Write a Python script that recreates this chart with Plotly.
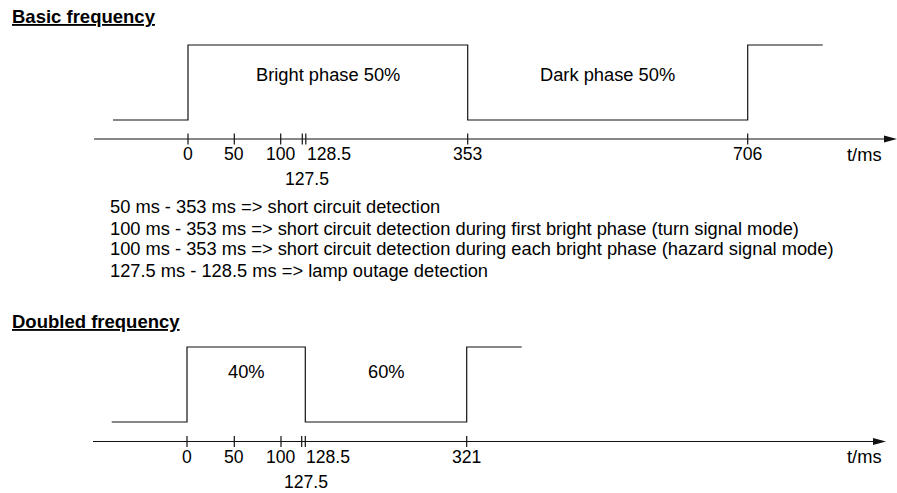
import numpy as np
import plotly.graph_objects as go

# ---------------- data ----------------
# Basic frequency: signal (time in ms, logic level)
basic_t = [-81, 0, 0, 353, 353, 706, 706, 800]
basic_level = [0, 0, 1, 1, 0, 0, 1, 1]
basic_ticks = [0, 50, 100, 127.5, 128.5, 353, 706]
basic_tick_labels = ["0", "50", "100", "127.5", "128.5", "353", "706"]
basic_phase_labels = ["Bright phase 50%", "Dark phase 50%"]
basic_phase_bounds = [[0, 353], [353, 706]]

# Doubled frequency
doubled_t = [-80, 0, 0, 128.5, 128.5, 321, 321, 387]
doubled_level = [0, 0, 1, 1, 0, 0, 1, 1]
doubled_ticks = [0, 50, 100, 127.5, 128.5, 321]
doubled_tick_labels = ["0", "50", "100", "127.5", "128.5", "321"]
doubled_phase_labels = ["40%", "60%"]
doubled_phase_bounds = [[0, 128.5], [128.5, 321]]

titles = ["Basic frequency", "Doubled frequency"]
axis_unit = "t/ms"
notes = [
    "50 ms - 353 ms => short circuit detection",
    "100 ms - 353 ms => short circuit detection during first bright phase (turn signal mode)",
    "100 ms - 353 ms => short circuit detection during each bright phase (hazard signal mode)",
    "127.5 ms - 128.5 ms => lamp outage detection",
]

# ---------------- schematic (non-proportional) time axis ----------------
basic_warp_t = [-81, 0, 50, 100, 127.5, 128.5, 353, 706, 800]
basic_warp_x = [113, 188, 234.3, 280.7, 302.3, 305.8, 467.7, 747.7, 822.7]
doubled_warp_t = [-80, 0, 50, 100, 127.5, 128.5, 321, 387]
doubled_warp_x = [111.7, 187, 234.3, 281, 301.7, 305.3, 466.7, 521.7]

W, H = 897, 493
FONT = "Liberation Sans, Arial, Helvetica, sans-serif"
LINE_COLOR = "#111111"
LW = 1.2
FS = 18.3
TITLE_FS = 18.5
TICK_FS = 17.6

# pixel layout of the two panels (row of low level, high level, time axis)
panels = [
    dict(t=basic_t, lev=basic_level, ticks=basic_ticks, labels=basic_tick_labels,
         plabels=basic_phase_labels, pbounds=basic_phase_bounds,
         wt=basic_warp_t, wx=basic_warp_x,
         low=120, high=45, axis=139, label_y=74, top=0, bottom=H / 2,
         axis_x0=94, axis_tip=897, title_y=17),
    dict(t=doubled_t, lev=doubled_level, ticks=doubled_ticks, labels=doubled_tick_labels,
         plabels=doubled_phase_labels, pbounds=doubled_phase_bounds,
         wt=doubled_warp_t, wx=doubled_warp_x,
         low=422, high=347, axis=441.5, label_y=371, top=H / 2, bottom=H,
         axis_x0=93, axis_tip=886, title_y=321),
]

fig = go.Figure()
shapes = []
annotations = []
layout_axes = {}

for i, p in enumerate(panels):
    xa = "x" if i == 0 else "x2"
    ya = "y" if i == 0 else "y2"
    xkey = "xaxis" if i == 0 else "xaxis2"
    ykey = "yaxis" if i == 0 else "yaxis2"
    ppu = p["low"] - p["high"]  # pixels per logic level unit

    def lvl(px, p=p, ppu=ppu):
        return (p["low"] - px) / ppu

    def warp(t, p=p):
        return np.interp(t, p["wt"], p["wx"])

    axis_lvl = lvl(p["axis"])

    layout_axes[xkey] = dict(range=[0, W], domain=[0, 1], visible=False,
                             fixedrange=True, anchor=ya)
    layout_axes[ykey] = dict(range=[lvl(p["bottom"]), lvl(p["top"])],
                             domain=[1 - p["bottom"] / H, 1 - p["top"] / H],
                             visible=False, fixedrange=True, anchor=xa)

    # signal
    fig.add_trace(go.Scatter(x=warp(p["t"]), y=p["lev"], mode="lines",
                             line=dict(color=LINE_COLOR, width=LW, shape="linear"),
                             xaxis=xa, yaxis=ya, hoverinfo="skip"))

    # time axis line + arrowhead
    shapes.append(dict(type="line", xref=xa, yref=ya, x0=p["axis_x0"], x1=p["axis_tip"] - 6,
                       y0=axis_lvl, y1=axis_lvl, line=dict(color=LINE_COLOR, width=LW)))
    shapes.append(dict(type="path", xref=xa, yref=ya, xsizemode="pixel", ysizemode="pixel",
                       xanchor=p["axis_tip"], yanchor=axis_lvl,
                       path="M0,0 L-13,-3.6 L-13,3.6 Z", fillcolor=LINE_COLOR,
                       line=dict(width=0)))

    # ticks crossing the axis
    fig.add_trace(go.Scatter(x=warp(p["ticks"]), y=[axis_lvl] * len(p["ticks"]),
                             mode="markers",
                             marker=dict(symbol="line-ns", size=8,
                                         line=dict(color=LINE_COLOR, width=LW)),
                             xaxis=xa, yaxis=ya, hoverinfo="skip"))

    # tick labels
    for tv, tl in zip(p["ticks"], p["labels"]):
        if tl == "127.5":
            annotations.append(dict(xref=xa, yref=ya, x=warp(128.5), y=axis_lvl, text=tl,
                                    showarrow=False, xanchor="center", yanchor="middle",
                                    yshift=-40, xshift=1,
                                    font=dict(family=FONT, size=TICK_FS, color="#000")))
        elif tl == "128.5":
            annotations.append(dict(xref=xa, yref=ya, x=warp(tv), y=axis_lvl, text=tl,
                                    showarrow=False, xanchor="left", yanchor="middle",
                                    yshift=-15, xshift=-1,
                                    font=dict(family=FONT, size=TICK_FS, color="#000")))
        else:
            annotations.append(dict(xref=xa, yref=ya, x=warp(tv), y=axis_lvl, text=tl,
                                    showarrow=False, xanchor="center", yanchor="middle",
                                    yshift=-15,
                                    font=dict(family=FONT, size=TICK_FS, color="#000")))

    # unit label
    annotations.append(dict(xref="paper", yref=ya, x=884 / W, y=axis_lvl, text=axis_unit,
                            showarrow=False, xanchor="right", yanchor="middle", yshift=-15,
                            font=dict(family=FONT, size=FS, color="#000")))

    # phase labels
    for lab, (a, b) in zip(p["plabels"], p["pbounds"]):
        annotations.append(dict(xref=xa, yref=ya, x=(warp(a) + warp(b)) / 2,
                                y=lvl(p["label_y"]), text=lab, showarrow=False,
                                xanchor="center", yanchor="middle",
                                font=dict(family=FONT, size=FS, color="#000")))

    # panel title
    annotations.append(dict(xref="paper", yref="paper", x=10 / W, y=1 - p["title_y"] / H,
                            text="<b><u>" + titles[i] + "</u></b>", showarrow=False,
                            xanchor="left", yanchor="middle",
                            font=dict(family=FONT, size=TITLE_FS, color="#000")))

# explanatory notes
for k, line in enumerate(notes):
    annotations.append(dict(xref="paper", yref="paper", x=108 / W, y=1 - (207 + 21 * k) / H,
                            text=line, showarrow=False, xanchor="left", yanchor="middle",
                            font=dict(family=FONT, size=FS, color="#000")))

fig.update_layout(
    width=W, height=H, autosize=False,
    margin=dict(l=0, r=0, t=0, b=0, pad=0),
    paper_bgcolor="white", plot_bgcolor="white",
    showlegend=False, shapes=shapes, annotations=annotations,
    **layout_axes,
)

fig.write_html("out.html", config={"displayModeBar": False, "staticPlot": True},
               post_script="document.body.style.margin='0px';document.body.style.overflow='hidden';")
